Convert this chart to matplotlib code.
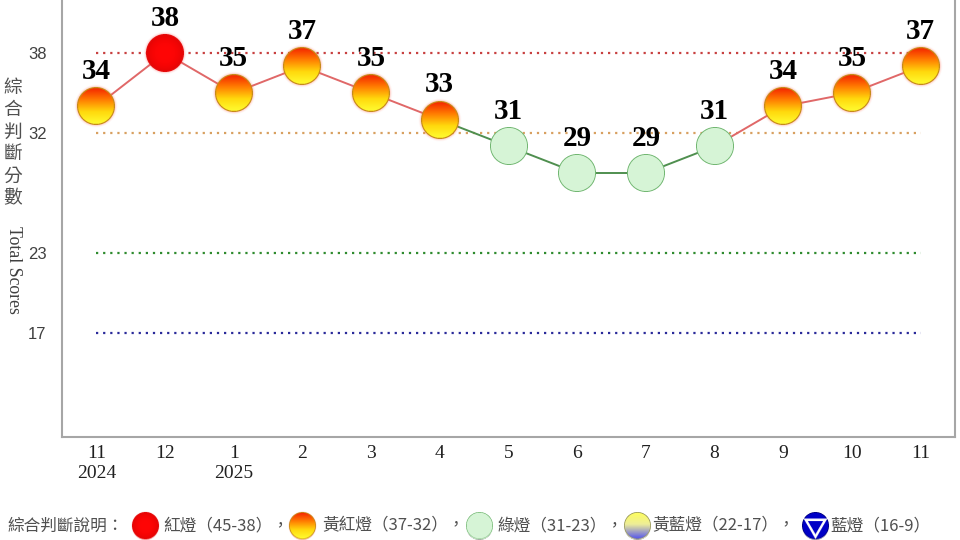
import numpy as np
import matplotlib
matplotlib.use("Agg")
import matplotlib.pyplot as plt
from matplotlib.offsetbox import OffsetImage, AnnotationBbox

# data
MONTHS = ["11\n2024", "12", "1\n2025", "2", "3", "4", "5", "6", "7", "8", "9", "10", "11"]
SCORES = [34, 38, 35, 37, 35, 33, 31, 29, 29, 31, 34, 35, 37]
BANDS = [38, 32, 23, 17]
BAND_COLORS = ["#c84040", "#d8a060", "#2e8b2e", "#2a2a9a"]
YLABEL_ZH = "綜合判斷分數"
YLABEL_EN = "Total Scores"
LEGEND_TITLE = "綜合判斷說明："
LEGEND_KINDS = ["red", "yr", "green", "yb", "blue"]
LEGEND_LABELS = ["紅燈（45-38）", "黃紅燈（37-32）", "綠燈（31-23）", "黃藍燈（22-17）", "藍燈（16-9）"]

CJK = ["Noto Sans CJK TC", "DejaVu Sans"]
SEG_COLORS = {"red": "#e06868", "yr": "#e06868", "green": "#4f8f4f"}


def light(v):
    if v >= 38:
        return "red"
    if v >= 32:
        return "yr"
    if v >= 23:
        return "green"
    if v >= 17:
        return "yb"
    return "blue"


def ramp(t, stops, cols):
    cols = np.array(cols, float)
    return np.stack([np.interp(t, stops, cols[:, k]) for k in range(3)], axis=-1)


def disc(kind, d, halo=0.0):
    """RGBA image of a light marker, d px across, built supersampled then pooled."""
    ss = 4
    size = int(round(d + 2 * halo + 2))
    n = size * ss
    c = (n - 1) / 2
    yy, xx = np.mgrid[0:n, 0:n]
    R = d * ss / 2
    x = (xx - c) / R
    y = (yy - c) / R
    r = np.hypot(x, y)
    t = np.clip((y + 1) / 2, 0, 1)
    inside = r <= 1
    ew = 0.06
    if kind == "yr":
        rgb = ramp(t, [0, 0.3, 0.65, 1], [(0.95, 0.12, 0.0), (1, 0.45, 0.0), (1, 0.85, 0.05), (1, 1, 0.2)])
        edge_c, halo_c = (0.78, 0.55, 0.1), (1, 0.4, 0.3)
    elif kind == "red":
        rgb = np.ones((n, n, 3)) * np.array([1.0, 0.02, 0.02])
        rgb *= (1 - 0.12 * np.clip(r, 0, 1) ** 3)[..., None]
        edge_c, halo_c = (0.9, 0.05, 0.05), (1, 0.35, 0.35)
    elif kind == "green":
        rgb = np.ones((n, n, 3)) * np.array([0.84, 0.96, 0.84])
        edge_c, halo_c = (0.45, 0.72, 0.45), None
        ew = 0.05
    elif kind == "yb":
        rgb = ramp(t, [0, 0.45, 1], [(1, 1, 0.35), (0.93, 0.93, 0.6), (0.3, 0.3, 0.95)])
        edge_c, halo_c = (0.6, 0.6, 0.35), None
    else:
        rgb = np.ones((n, n, 3)) * np.array([0.0, 0.0, 0.78])
        edge_c, halo_c = (0.0, 0.0, 0.5), None
    edge = inside & (r > 1 - ew)
    rgb[edge] = edge_c
    if kind == "blue":
        pts = [(-0.72, -0.42), (0.72, -0.42), (0.0, 0.8)]
        dists = []
        for i in range(3):
            (x1, y1), (x2, y2) = pts[i], pts[(i + 1) % 3]
            L = np.hypot(x2 - x1, y2 - y1)
            dists.append(-((x2 - x1) * (y - y1) - (y2 - y1) * (x - x1)) / L)
        dists = np.array(dists)
        w = 0.09
        outer = np.all(dists > -w, axis=0)
        inner = np.all(dists > w, axis=0)
        if not inner.any():
            outer = np.all(-dists > -w, axis=0)
            inner = np.all(-dists > w, axis=0)
        rgb[outer & ~inner & inside] = (1, 1, 1)
    a = inside.astype(float)
    if halo_c is not None and halo > 0:
        hr = 2 * halo / d
        ring = (~inside) & (r < 1 + hr)
        a[ring] = 0.35 * (1 - (r[ring] - 1) / hr) ** 2
        rgb[ring] = halo_c
    pm = rgb * a[..., None]
    pm = pm.reshape(size, ss, size, ss, 3).mean(axis=(1, 3))
    a = a.reshape(size, ss, size, ss).mean(axis=(1, 3))
    out = np.zeros((size, size, 4))
    out[..., :3] = np.where(a[..., None] > 0, pm / np.maximum(a[..., None], 1e-9), 0)
    out[..., 3] = a
    return np.clip(out, 0, 1)


fig = plt.figure(figsize=(9.6, 5.4), dpi=100)
ax = fig.add_axes([62 / 960, 103 / 540, 893 / 960, 444 / 540])
ax.set_xlim(-0.5, 12.5)
ax.set_ylim(9.2, 42.5)
for s in ax.spines.values():
    s.set_color("#a6a6a6")
    s.set_linewidth(1.5)

xs = np.arange(len(SCORES))
for b, c in zip(BANDS, BAND_COLORS):
    ax.plot([xs[0], xs[-1]], [b, b], ls=(0, (1, 2.2)), lw=1.6, color=c, zorder=1)

for i in range(len(SCORES) - 1):
    ax.plot(xs[i:i + 2], SCORES[i:i + 2], color=SEG_COLORS[light(SCORES[i + 1])], lw=1.4, zorder=2)

imgs = {}
for i, v in zip(xs, SCORES):
    k = light(v)
    if k not in imgs:
        imgs[k] = disc(k, 38, halo=3)
    ab = AnnotationBbox(OffsetImage(imgs[k], zoom=1, dpi_cor=False), (i, v),
                        frameon=False, pad=0, zorder=4)
    ax.add_artist(ab)
    ax.annotate(str(v), (i, v), xytext=(0, 25), textcoords="offset points", ha="center",
                va="center", fontsize=21, fontweight="bold", family="Liberation Serif", zorder=5)

ax.set_xticks(xs)
ax.set_xticklabels(MONTHS)
ax.tick_params(axis="x", length=0, pad=6, labelsize=14, labelcolor="#202020")
for lbl in ax.get_xticklabels():
    lbl.set_fontfamily("Liberation Serif")
ax.set_yticks(BANDS)
ax.set_yticklabels([str(b) for b in BANDS])
ax.tick_params(axis="y", length=0, pad=11, labelsize=12, labelcolor="#404040")
for lbl in ax.get_yticklabels():
    lbl.set_fontfamily("Liberation Sans")

# vertical y label: stacked Chinese characters then rotated English
for j, ch in enumerate(YLABEL_ZH):
    fig.text(13 / 960, 1 - (88 + 22 * j) / 540, ch, ha="center", va="center",
             fontsize=13.5, family=CJK, color="#505050")
fig.text(13 / 960, 1 - 270 / 540, YLABEL_EN, rotation=-90, ha="center", va="center",
         fontsize=12.8, family="Liberation Serif", color="#404040")

# legend strip along the bottom
ly = 1 - 526 / 540
fig.text(7 / 960, ly, LEGEND_TITLE, ha="left", va="center", fontsize=12, family=CJK, color="#505050")
mark_x = [145, 302, 479, 637, 815]
text_x = [163, 322, 497, 652, 830]
for j, (kind, lab, mx, tx) in enumerate(zip(LEGEND_KINDS, LEGEND_LABELS, mark_x, text_x)):
    ab = AnnotationBbox(OffsetImage(disc(kind, 27, halo=1), zoom=1, dpi_cor=False), (mx / 960, ly),
                        xycoords="figure fraction", frameon=False, pad=0)
    fig.add_artist(ab)
    sep = "，" if j < len(LEGEND_LABELS) - 1 else ""
    fig.text(tx / 960, ly, lab + sep, ha="left", va="center", fontsize=12, family=CJK, color="#505050")

fig.savefig("out.png", dpi=100)
